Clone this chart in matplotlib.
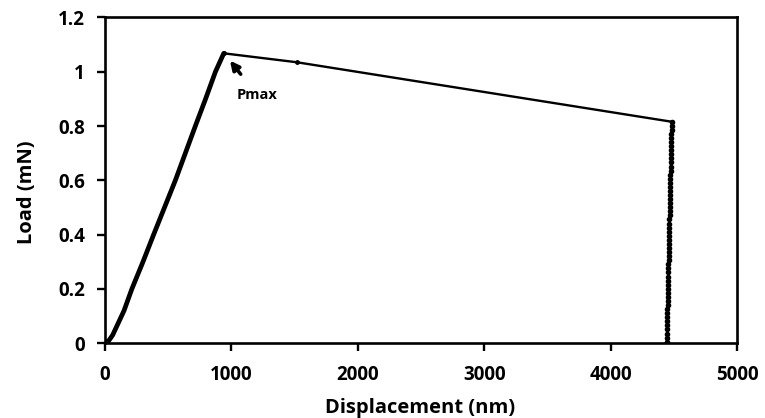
import numpy as np
import matplotlib.pyplot as plt

plt.rcParams['font.family'] = ['Open Sans', 'DejaVu Sans']
plt.rcParams['font.weight'] = 'bold'

# loading branch (dense data)
load_x = [0, 30, 60, 100, 150, 212, 300, 384, 470, 556, 635, 714, 795, 873, 939]
load_y = [0, 0.01, 0.03, 0.07, 0.12, 0.20, 0.30, 0.40, 0.50, 0.60, 0.70, 0.80, 0.90, 1.00, 1.068]

# creep / hold segment (sparse data)
hold_x = [939, 1518, 4481]
hold_y = [1.068, 1.035, 0.816]

# unloading branch
unload_x = [4481, 4480, 4480, 4479, 4478, 4477, 4477, 4476, 4475, 4474,
            4474, 4473, 4472, 4471, 4471, 4470, 4469, 4469, 4468, 4467,
            4466, 4466, 4465, 4464, 4463, 4463, 4462, 4461, 4460, 4460,
            4459, 4458, 4457, 4457, 4456, 4455, 4455, 4454, 4453, 4452,
            4452, 4451, 4450, 4449, 4449, 4448, 4447, 4446, 4446, 4445,
            4444, 4444, 4443, 4443, 4442, 4442]
unload_y = [0.816, 0.801, 0.786, 0.771, 0.756, 0.741, 0.726, 0.711, 0.696, 0.681,
            0.666, 0.651, 0.636, 0.621, 0.606, 0.591, 0.576, 0.561, 0.546, 0.531,
            0.516, 0.501, 0.486, 0.471, 0.456, 0.441, 0.426, 0.411, 0.396, 0.381,
            0.366, 0.351, 0.336, 0.321, 0.306, 0.291, 0.276, 0.261, 0.246, 0.231,
            0.216, 0.201, 0.186, 0.171, 0.156, 0.141, 0.126, 0.111, 0.096, 0.081,
            0.066, 0.051, 0.036, 0.021, 0.006, 0.0]

fig = plt.figure(figsize=(7.65, 4.18), dpi=100)
ax = fig.add_axes([0.1373, 0.1787, 0.8265, 0.7795])

ax.plot(load_x, load_y, color='black', lw=3.4, solid_capstyle='round')
ax.plot(hold_x, hold_y, color='black', lw=1.7, marker='o', ms=2.5)
ax.plot(unload_x, unload_y, color='black', lw=1.4, marker='o', ms=3.0)

ax.annotate('Pmax', xy=(988, 1.041), xytext=(1202, 0.915),
            ha='center', va='center', fontsize=10.5, fontweight='bold',
            arrowprops=dict(arrowstyle='-|>', color='black', lw=2.6,
                            mutation_scale=13, shrinkA=10, shrinkB=0))

ax.set_xlim(0, 5000)
ax.set_ylim(0, 1.2)
ax.set_xticks([0, 1000, 2000, 3000, 4000, 5000])
ax.set_yticks([0, 0.2, 0.4, 0.6, 0.8, 1.0, 1.2])
ax.set_yticklabels(['0', '0.2', '0.4', '0.6', '0.8', '1', '1.2'])

for s in ax.spines.values():
    s.set_linewidth(1.9)
ax.tick_params(direction='out', length=5.5, width=1.7, labelsize=13.5)
ax.tick_params(axis='x', pad=10)
ax.tick_params(axis='y', pad=9)
for lab in ax.get_xticklabels() + ax.get_yticklabels():
    lab.set_fontweight('bold')

ax.set_xlabel('Displacement (nm)', fontsize=14.5, fontweight='bold')
ax.set_ylabel('Load (mN)', fontsize=14.5, fontweight='bold')
ax.xaxis.set_label_coords(0.498, -0.168)
ax.yaxis.set_label_coords(-0.108, 0.465)

fig.savefig('out.png', dpi=100)
